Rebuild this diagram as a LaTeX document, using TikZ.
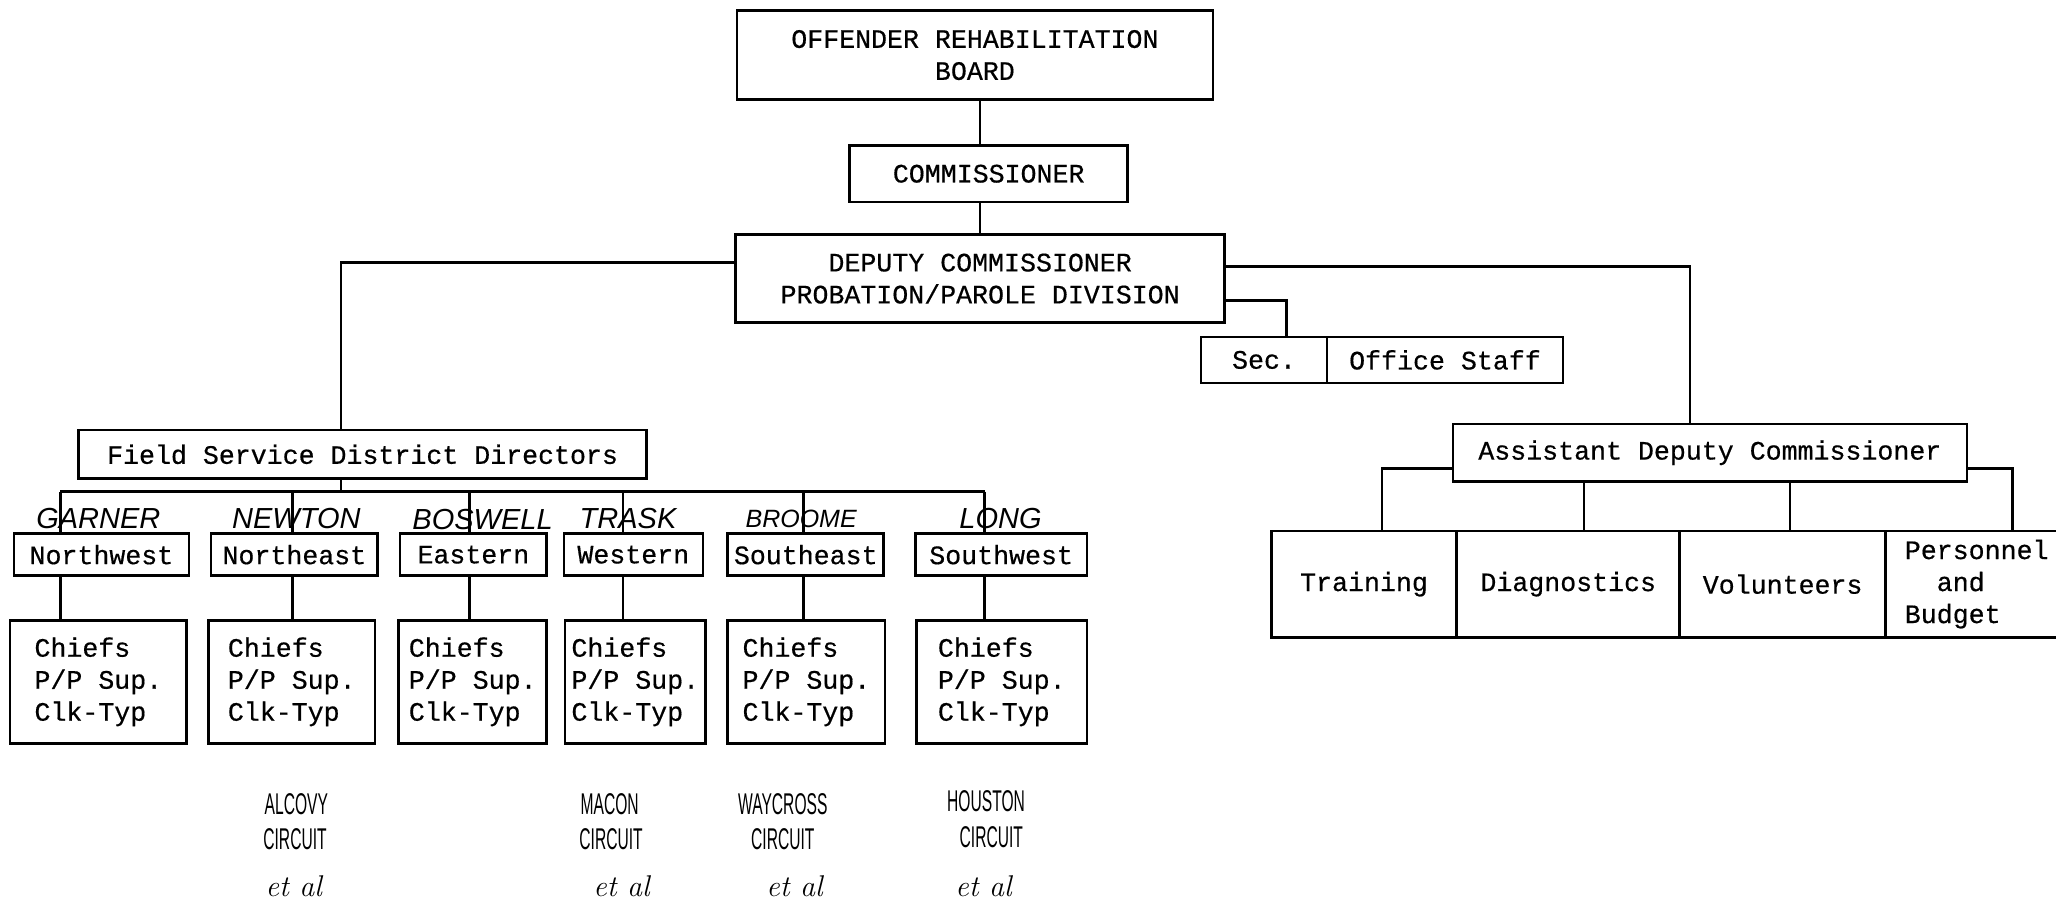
\documentclass[tikz,border=0pt]{standalone}
\usepackage{fontspec}
\setmonofont[FakeBold=0.5]{Liberation Mono}
\newfontfamily\handfont{Liberation Sans}
\newfontfamily\handnarrow[FakeStretch=0.52]{Liberation Sans}
\begin{document}
\begin{tikzpicture}[x=0.6555pt,y=-0.6555pt,
  box/.style={draw,line width=1.3pt,inner sep=0pt,font=\ttfamily\fontsize{13.3}{16}\selectfont},
  bx/.style n args={4}{box,minimum width={(#3-#1)*0.6555pt},minimum height={(#4-#2)*0.6555pt},
     at={({(#1+#3)/2},{(#2+#4)/2})}},
  conn/.style={line width=1.3pt},
  hname/.style={font=\handfont\itshape\fontsize{14.5}{14.5}\selectfont,anchor=base,inner sep=0pt},
  hsmall/.style={font=\handfont\itshape\fontsize{12.5}{12.5}\selectfont,anchor=base,inner sep=0pt},
  hcirc/.style={font=\handnarrow\fontsize{15}{15}\selectfont,anchor=base,inner sep=0pt},
  etal/.style={font=\itshape\fontsize{15}{15}\selectfont,anchor=base,inner sep=0pt}]
\useasboundingbox (0,0) rectangle (1568,689);

% top chain
\node[bx={562}{8}{925}{76},align=center] (board) {OFFENDER REHABILITATION\\BOARD};
\node[bx={648}{111}{860}{154}] (comm) {COMMISSIONER};
\node[bx={561}{179}{934}{246},align=center] (dep) {DEPUTY COMMISSIONER\\PROBATION/PAROLE DIVISION};
\node[bx={916}{257}{1012}{292}] (sec) {Sec.};
\node[bx={1012}{257}{1192}{292}] (staff) {Office Staff};

\draw[conn] (board.south -| dep.north) -- (comm.north -| dep.north);
\draw[conn] (comm.south -| dep.north) -- (dep.north);

% field service
\node[bx={60}{328}{493}{365}] (fsd) {Field Service District Directors};
\coordinate (fsdtap) at (260,328);
\draw[conn] ([yshift=8.2pt]dep.west) -| (fsdtap);

\coordinate (sectap) at (981,257);
\draw[conn] ([yshift=-10.8pt]dep.east) -| (sectap);

% assistant deputy
\node[bx={1108}{323.5}{1500}{367}] (adc) {Assistant Deputy Commissioner};
\coordinate (adctap) at (1289,323.5);
\draw[conn] ([yshift=6.2pt]dep.east) -| (adctap);

\node[bx={969.5}{405}{1111}{486}] (train) {Training};
\node[bx={1111}{405}{1281}{486}] (diag) {Diagnostics};
\node[bx={1281}{405}{1438}{486}] (vol) {Volunteers};
\node[bx={1438}{405}{1577}{486},align=left] (pers) {Personnel\\\phantom{xx}and\\Budget};

\coordinate (at1) at (1054,405);
\coordinate (at2) at (1208,405);
\coordinate (at3) at (1365,405);
\coordinate (at4) at (1535,405);
\draw[conn] ([yshift=-8pt]adc.west) -| (at1);
\draw[conn] ([yshift=-8pt]adc.east) -| (at4);
\draw[conn] (adc.south -| at2) -- (at2);
\draw[conn] (adc.south -| at3) -- (at3);

% districts
\node[bx={10.7}{407}{144}{439}] (r1) {Northwest};
\node[bx={161}{407}{288}{439}] (r2) {Northeast};
\node[bx={305}{407}{417}{439}] (r3) {Eastern};
\node[bx={430}{407}{536}{439}] (r4) {Western};
\node[bx={555}{407}{674}{439}] (r5) {Southeast};
\node[bx={698}{407}{829}{439}] (r6) {Southwest};

\node[bx={7.6}{473}{142.4}{567},align=left] (c1) {Chiefs\\P/P Sup.\\Clk-Typ};
\node[bx={159}{473}{286}{567},align=left] (c2) {Chiefs\\P/P Sup.\\Clk-Typ};
\node[bx={304}{473}{417}{567},align=left] (c3) {Chiefs\\P/P Sup.\\Clk-Typ};
\node[bx={431}{473}{538}{567},align=left] (c4) {Chiefs\\P/P Sup.\\Clk-Typ};
\node[bx={555}{473}{675}{567},align=left] (c5) {Chiefs\\P/P Sup.\\Clk-Typ};
\node[bx={699}{473}{829}{567},align=left] (c6) {Chiefs\\P/P Sup.\\Clk-Typ};

\coordinate (d1) at (46,375);
\coordinate (d2) at (223,375);
\coordinate (d3) at (358,375);
\coordinate (d4) at (475,375);
\coordinate (d5) at (613,375);
\coordinate (d6) at (751,375);
\draw[conn] (d1) -- (d6);
\draw[conn] (fsdtap |- fsd.south) -- (fsdtap |- d1);
\foreach \i in {1,...,6}{
  \draw[conn] (d\i) -- (d\i |- r\i.north);
  \draw[conn] (d\i |- r\i.south) -- (d\i |- c\i.north);
}

% handwritten names
\node[hname] (garner) at (75,403) {GARNER};
\node[hname] (newton) at (226,403) {NEWTON};
\node[hname] (boswell) at (368,404) {BOSWELL};
\node[hname] (trask) at (479,403) {TRASK};
\node[hsmall] (broome) at (611,402) {BROOME};
\node[hname] (long) at (763,403) {LONG};

% handwritten circuits
\node[hcirc] (alc1) at (226,621) {ALCOVY};
\node[hcirc] (alc2) at (225,648) {CIRCUIT};
\node[etal] (alc3) at (224,684) {et al};
\node[hcirc] (mac1) at (465,621) {MACON};
\node[hcirc] (mac2) at (466,648) {CIRCUIT};
\node[etal] (mac3) at (474,684) {et al};
\node[hcirc] (way1) at (597,621) {WAYCROSS};
\node[hcirc] (way2) at (597,648) {CIRCUIT};
\node[etal] (way3) at (606,684) {et al};
\node[hcirc] (hou1) at (752,619) {HOUSTON};
\node[hcirc] (hou2) at (756,646) {CIRCUIT};
\node[etal] (hou3) at (750,684) {et al};
\end{tikzpicture}
\end{document}
